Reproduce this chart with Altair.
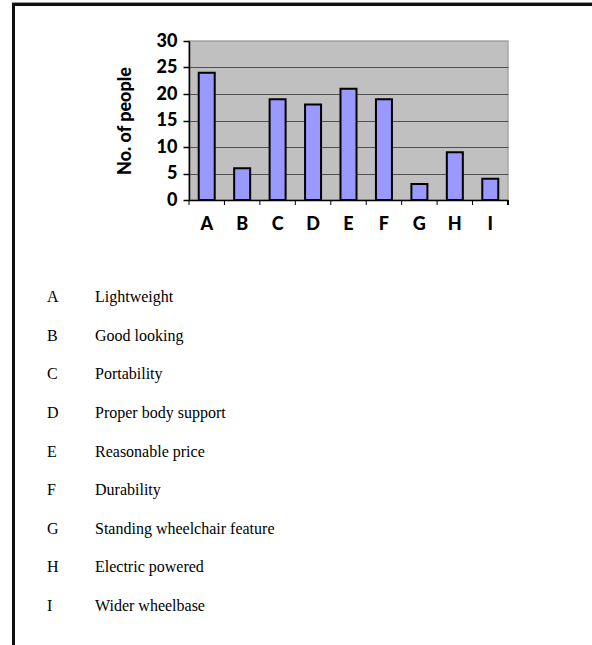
import altair as alt
import pandas as pd

letters = ["A", "B", "C", "D", "E", "F", "G", "H", "I"]
counts = [24, 6, 19, 18, 21, 19, 3, 9, 4]
descriptions = [
    "Lightweight",
    "Good looking",
    "Portability",
    "Proper body support",
    "Reasonable price",
    "Durability",
    "Standing wheelchair feature",
    "Electric powered",
    "Wider wheelbase",
]
y_ticks = [0, 5, 10, 15, 20, 25, 30]

df = pd.DataFrame({"letter": letters, "count": counts, "desc": descriptions})
base = alt.Chart(df)

AX_FONT = "Lato"
AX_SIZE = 18

xenc = alt.X(
    "letter:N",
    sort=letters,
    scale=alt.Scale(paddingInner=0, paddingOuter=0),
    axis=alt.Axis(
        title=None,
        labelAngle=0,
        labelFont=AX_FONT,
        labelFontWeight=900,
        labelFontSize=AX_SIZE,
        labelColor="black",
        ticks=False,
        tickSize=0,
        labelPadding=15,
        domainColor="black",
        domainWidth=1.5,
        grid=False,
    ),
)

bars = base.mark_bar(
    width=16, color="#9999ff", stroke="black", strokeWidth=2
).encode(
    x=xenc,
    y=alt.Y(
        "count:Q",
        scale=alt.Scale(domain=[0, 30], nice=False),
        axis=alt.Axis(
            values=y_ticks,
            title="No. of people",
            titleFont=AX_FONT,
            titleFontWeight=900,
            titleFontSize=AX_SIZE,
            titleColor="black",
            titlePadding=22,
            labelFont=AX_FONT,
            labelFontWeight=900,
            labelFontSize=AX_SIZE,
            labelColor="black",
            labelPadding=6,
            tickSize=6,
            tickColor="black",
            tickWidth=1.5,
            domainColor="black",
            domainWidth=1.5,
            grid=True,
            gridColor={
                "condition": {"test": "datum.value === 30", "value": "#a6a6a6"},
                "value": "#505050",
            },
            gridWidth=1,
        ),
    ),
)

xticks = base.mark_rule(color="black", strokeWidth=1).encode(
    x=alt.X("letter:N", sort=letters, bandPosition=0),
    y=alt.value(159),
    y2=alt.value(164),
)
end_tick = base.mark_rule(color="black", strokeWidth=1).encode(
    x=alt.value(319), y=alt.value(159), y2=alt.value(164)
)

yrow = alt.Y(
    "letter:N",
    sort=letters,
    scale=alt.Scale(type="point", range=[256, 565], padding=0),
    axis=None,
)
letter_text = base.mark_text(
    align="left", baseline="middle", font="Liberation Serif", fontSize=16, color="black"
).encode(x=alt.value(-142), y=yrow, text="letter:N")
desc_text = base.mark_text(
    align="left", baseline="middle", font="Liberation Serif", fontSize=16, color="black"
).encode(x=alt.value(-94), y=yrow, text="desc:N")

frame_top_gray = base.mark_rule(color="#9a9a9a", strokeWidth=1).encode(
    x=alt.value(-177), x2=alt.value(403), y=alt.value(-38.5)
)
frame_top = base.mark_rule(color="#111111", strokeWidth=2).encode(
    x=alt.value(-177), x2=alt.value(403), y=alt.value(-36.5)
)
frame_left = base.mark_rule(color="#111111", strokeWidth=2).encode(
    x=alt.value(-175.5), y=alt.value(-37.5), y2=alt.value(604)
)

chart = (
    alt.layer(
        bars, xticks, end_tick, letter_text, desc_text,
        frame_top_gray, frame_top, frame_left,
    )
    .resolve_scale(y="independent")
    .properties(
        width=319,
        height=159,
        autosize=alt.AutoSizeParams(type="none"),
        padding={"left": 189, "top": 41, "right": 84, "bottom": 445},
        background="white",
    )
    .configure_view(fill="#c0c0c0", stroke="#a6a6a6", strokeWidth=1.5)
)

chart.save("out.html", embed_options={"renderer": "svg", "actions": False})
